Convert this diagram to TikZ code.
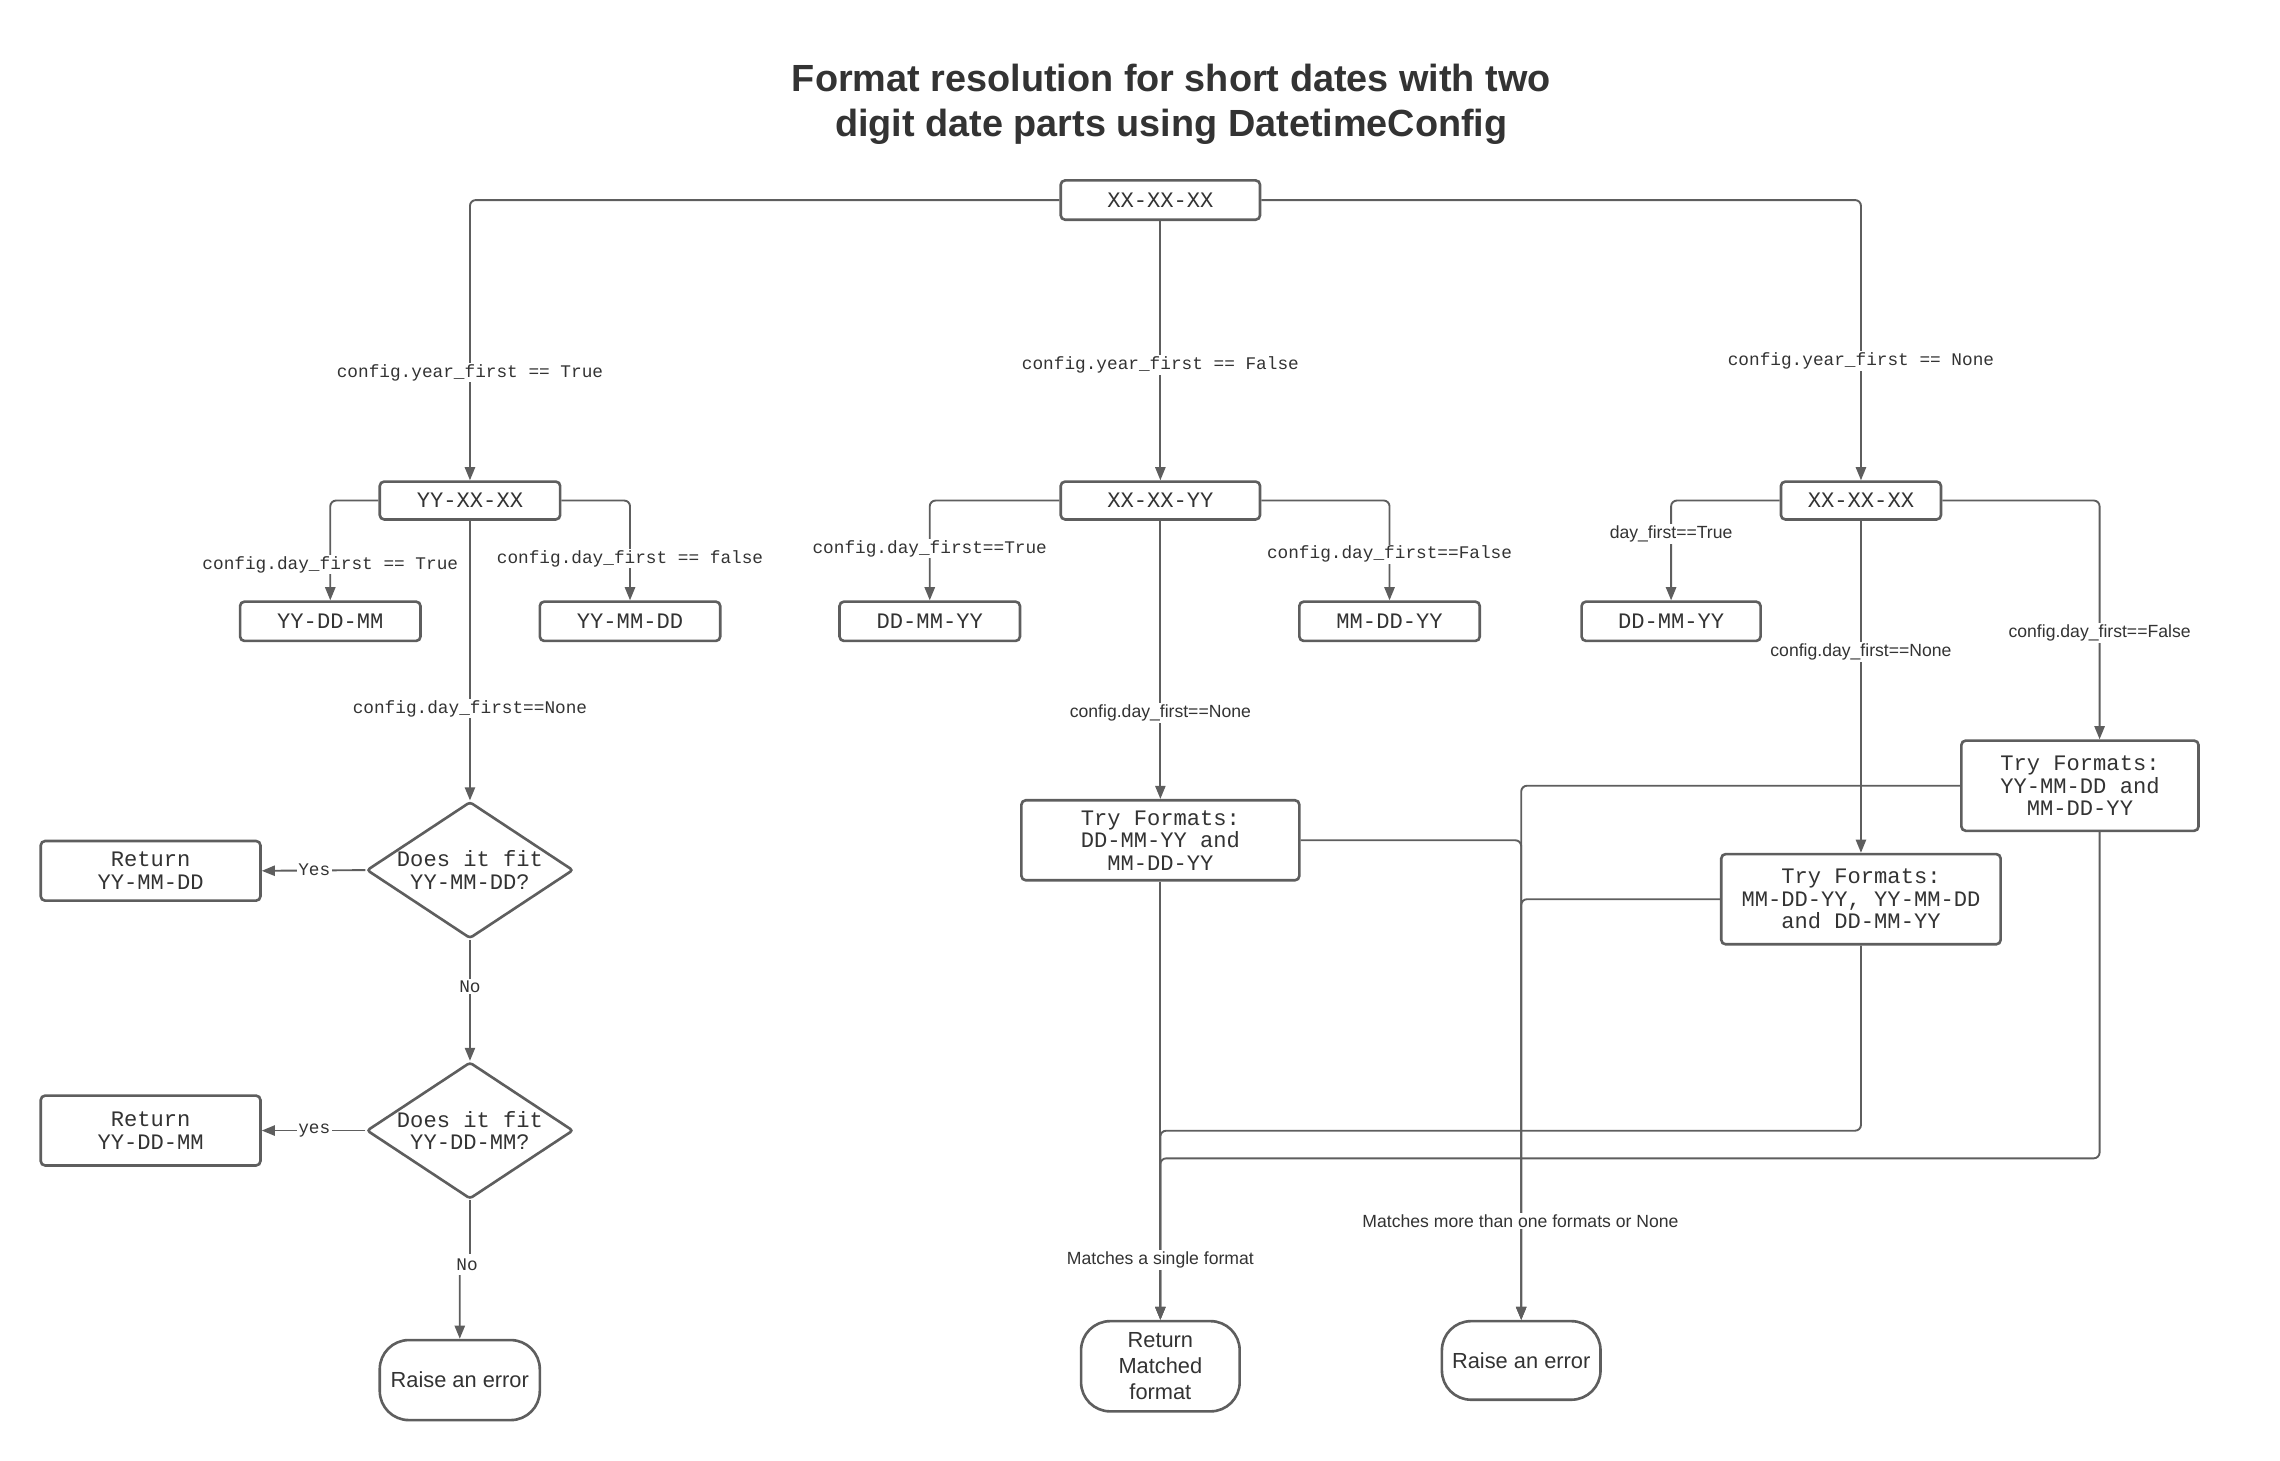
\documentclass[tikz,border=0pt]{standalone}
\usepackage{fontspec}
\setmainfont{Liberation Sans}
\setmonofont{Liberation Mono}
\usetikzlibrary{shapes.geometric,arrows.meta}
\definecolor{lc}{HTML}{5E5E5E}
\definecolor{tc}{HTML}{333333}
\begin{document}
\begin{tikzpicture}[x=1pt,y=-1pt,
  box/.style={draw=lc, line width=1.8pt, rounded corners=3pt, fill=white, text=tc,
    align=center, inner sep=0pt, font=\ttfamily\fontsize{15.2}{15.5}\selectfont},
  dia/.style={shape=diamond, draw=lc, line width=1.8pt, rounded corners=2pt, fill=white, text=tc,
    align=center, inner sep=0pt, aspect=1.51, minimum width=142pt, minimum height=94pt,
    font=\ttfamily\fontsize{15.2}{15.5}\selectfont},
  stad/.style={draw=lc, line width=1.8pt, rounded corners=20pt, fill=white, text=tc,
    align=center, inner sep=0pt, font=\fontsize{15}{18}\selectfont},
  conn/.style={draw=lc, line width=1.3pt, rounded corners=4pt},
  arr/.style={conn, -{Triangle[length=9pt,width=7pt]}},
  mlbl/.style={fill=white, text=tc, inner sep=1pt, font=\ttfamily\fontsize{12.2}{13}\selectfont},
  slbl/.style={fill=white, text=tc, inner sep=1pt, font=\fontsize{12.1}{13}\selectfont},
  ttl/.style={text=tc, align=center, font=\bfseries\fontsize{26}{31}\selectfont}
]
\useasboundingbox (0,0) rectangle (1567,1003.5);

\node[ttl] (title) at (805,71.5) {Format resolution for short dates with two\\digit date parts using DatetimeConfig};

% nodes
\node[box, minimum width=137pt, minimum height=27pt] (top) at (797.5,137.5) {XX-XX-XX};
\node[box, minimum width=124pt, minimum height=26pt] (A) at (323,344) {YY-XX-XX};
\node[box, minimum width=137pt, minimum height=26pt] (B) at (797.5,344) {XX-XX-YY};
\node[box, minimum width=110pt, minimum height=26pt] (C) at (1279,344) {XX-XX-XX};
\node[box, minimum width=124pt, minimum height=27pt] (A1) at (227,427) {YY-DD-MM};
\node[box, minimum width=124pt, minimum height=27pt] (A2) at (433,427) {YY-MM-DD};
\node[box, minimum width=124pt, minimum height=27pt] (B1) at (639,427) {DD-MM-YY};
\node[box, minimum width=124pt, minimum height=27pt] (B2) at (955,427) {MM-DD-YY};
\node[box, minimum width=123pt, minimum height=27pt] (C1) at (1148.5,427) {DD-MM-YY};
\node[dia] (D1) at (323,598) {Does it fit\\YY-MM-DD?};
\node[dia] (D2) at (323,777) {Does it fit\\YY-DD-MM?};
\node[box, minimum width=151pt, minimum height=41pt] (R1) at (103.5,598.5) {Return\\YY-MM-DD};
\node[box, minimum width=151pt, minimum height=48pt] (R2) at (103.5,777) {Return\\YY-DD-MM};
\node[stad, minimum width=110pt, minimum height=55pt] (E1) at (316,948.5) {Raise an error};
\node[box, minimum width=191pt, minimum height=55pt] (TB) at (797.5,577.5) {Try Formats:\\DD-MM-YY and\\MM-DD-YY};
\node[box, minimum width=163pt, minimum height=62pt] (TC) at (1429.5,540) {Try Formats:\\YY-MM-DD and\\MM-DD-YY};
\node[box, minimum width=192pt, minimum height=62pt] (TN) at (1279,618) {Try Formats:\\MM-DD-YY, YY-MM-DD\\and DD-MM-YY};
\node[stad, minimum width=109pt, minimum height=62pt] (RM) at (797.5,939) {Return\\Matched\\format};
\node[stad, minimum width=109pt, minimum height=54pt] (E2) at (1045.5,935) {Raise an error};
\coordinate (TCin) at ([xshift=13.5pt]TC.north);
\coordinate (TCout) at ([xshift=13.5pt]TC.south);

% connectors
\draw[arr] (top.west) -| (A.north);
\draw[arr] (top.south) -- (B.north);
\draw[arr] (top.east) -| (C.north);
\draw[arr] (A.west) -| (A1.north);
\draw[arr] (A.east) -| (A2.north);
\draw[arr] (A.south) -- (D1.north);
\draw[arr] (D1.west) -- (R1.east);
\draw[arr] (D1.south) -- (D2.north);
\draw[arr] (D2.west) -- (R2.east);
\draw[arr] (D2.south) -- (323,869) -| (E1.north);
\draw[arr] (B.west) -| (B1.north);
\draw[arr] (B.east) -| (B2.north);
\draw[arr] (B.south) -- (TB.north);
\draw[arr] (C.west) -| (C1.north);
\draw[arr] (C.south) -- (TN.north);
\draw[arr] (C.east) -| (TCin);
\draw[arr] (TB.south) -- (RM.north);
\draw[arr] (TN.south) |- ([yshift=130pt]RM.north) -- (RM.north);
\draw[arr] (TCout) |- ([yshift=111pt]RM.north) -- (RM.north);
\draw[arr] (TB.east) -| (E2.north);
\draw[arr] (TC.west) -| (E2.north);
\draw[arr] (TN.west) -| (E2.north);

% labels
\node[mlbl] (l1) at (323,256) {config.year\_first == True};
\node[mlbl] (l2) at (797.5,251) {config.year\_first == False};
\node[mlbl] (l3) at (1279,248) {config.year\_first == None};
\node[mlbl] (l4) at (227,388) {config.day\_first == True};
\node[mlbl] (l5) at (433,384) {config.day\_first == false};
\node[mlbl] (l6) at (323,487) {config.day\_first==None};
\node[mlbl] (l7) at (216,598) {Yes};
\node[mlbl] (l8) at (323,678) {No};
\node[mlbl] (l9) at (216,777) {yes};
\node[mlbl, inner ysep=3pt] (l10) at (321,869) {No};
\node[mlbl] (l11) at (639,377) {config.day\_first==True};
\node[mlbl] (l12) at (955,381) {config.day\_first==False};
\node[slbl] (l13) at (797.5,490) {config.day\_first==None};
\node[slbl] (l14) at (1148.5,367) {day\_first==True};
\node[slbl] (l15) at (1279,448) {config.day\_first==None};
\node[slbl] (l16) at (1443,435) {config.day\_first==False};
\node[slbl] (l17) at (797.5,866) {Matches a single format};
\node[slbl] (l18) at (1045,839) {Matches more than one formats or None};
\end{tikzpicture}
\end{document}
